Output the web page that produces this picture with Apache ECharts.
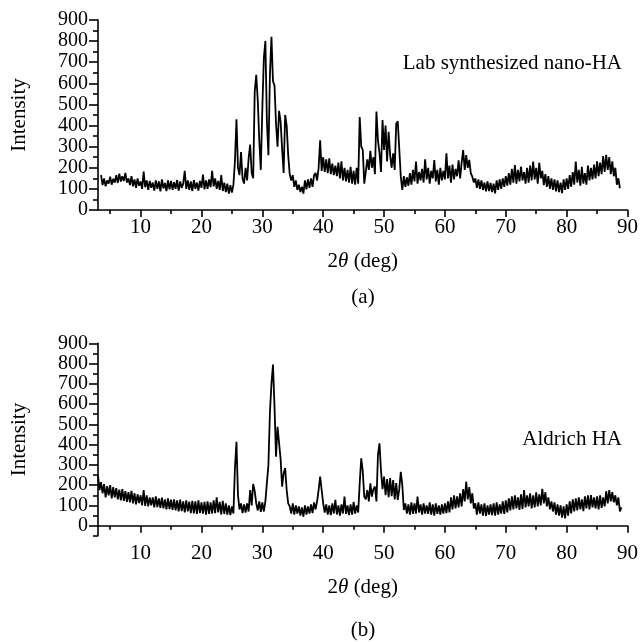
<!DOCTYPE html>
<html>
<head>
<meta charset="utf-8">
<script src="https://cdn.jsdelivr.net/npm/echarts/dist/echarts.min.js"></script>
<style>
html,body{margin:0;padding:0;background:#fff;}
#chart{width:641px;height:642px;}
</style>
</head>
<body>
<div id="chart"></div>
<script>
// ---- Data ----
const step = 0.25;                 // 2θ sampling (deg)
const labStart = 3.5;              // first 2θ of panel (a)
const aldrichStart = 3.0;          // first 2θ of panel (b)

// Panel (a): Lab synthesized nano-HA, intensity per 0.25 deg
const labValues = [
  165,118,
  150,112,140,125, 158,120,148,130, 165,128,172,135, 160,138,176,130,
  150,118,160,112, 145,105,150,115, 135,100,182,108, 140,95,138,105,
  130,92,140,100, 135,88,145,102, 128,90,140,98, 138,95,132,100,
  142,92,135,105, 125,185,100,140, 95,135,90,142, 100,130,92,138,
  105,168,98,140, 100,145,108,185, 112,150,100,138, 95,165,90,130,
  85,125,78,118, 82,120,230,430, 200,165,275,150, 125,200,140,245,
  310,175,150,560, 640,520,330,190, 480,720,800,420, 260,640,820,610,
  590,410,300,470, 420,290,175,450, 400,260,170,140, 165,110,140,95,
  120,85,110,78, 140,98,145,105, 150,110,165,175, 140,200,330,185,
  250,180,240,175, 245,170,220,165, 210,160,225,150, 230,140,200,135,
  190,130,205,125, 185,120,200,125, 440,300,285,125, 120,240,190,280,
  200,250,170,466, 330,270,180,426, 285,400,230,370, 260,200,268,190,
  410,420,290,158, 95,160,110,155, 115,175,120,190, 135,230,125,180,
  140,195,130,240, 145,200,125,185, 150,237,135,190, 120,200,140,185,
  145,268,150,210, 130,215,145,195, 160,235,150,225, 284,190,260,200,
  237,175,158,130, 150,105,145,100, 140,95,130,88, 135,90,128,85,
  125,79,140,95, 145,100,150,110, 160,115,175,120, 195,130,213,125,
  190,135,205,140, 180,125,200,130, 210,140,229,145, 200,125,224,150,
  185,118,170,110, 160,100,150,95, 145,88,140,85, 130,80,145,95,
  150,100,165,110, 180,120,229,130, 190,115,205,125, 175,120,210,140,
  200,145,215,150, 230,160,225,170, 255,180,261,190, 250,170,230,160,
  200,120,150,103
];

// Panel (b): Aldrich HA, intensity per 0.25 deg
const aldrichValues = [
  250,175,215,160, 205,140,195,150, 200,135,190,140, 185,130,178,125,
  180,122,170,118, 165,115,172,110, 160,105,155,112, 150,100,175,98,
  150,95,140,100, 140,90,145,92, 135,88,138,85, 130,80,135,82,
  128,78,130,75, 125,70,128,72, 120,65,125,70, 118,62,122,60,
  120,58,125,62, 115,60,118,55, 120,58,115,60, 125,62,140,65,
  118,55,122,58, 110,55,100,52, 95,60,283,414, 150,80,110,62,
  105,65,110,70, 176,100,206,170, 110,75,120,68, 115,70,120,120,
  300,560,700,795, 590,340,488,495, 330,192,258,284, 176,110,95,60,
  110,55,100,60, 95,50,90,44, 100,55,95,60, 105,62,115,80,
  120,176,242,176, 110,65,105,55, 100,52,110,60, 127,55,100,50,
  105,60,143,58, 100,52,105,55, 118,60,100,65, 209,332,270,143,
  130,176,120,209, 143,180,193,120, 349,406,270,180, 242,150,230,140,
  235,145,225,130, 210,127,180,266, 200,77,110,60, 105,55,115,58,
  110,60,143,65, 105,55,110,60, 100,58,115,55, 105,50,110,58,
  100,55,105,60, 110,62,120,65, 140,80,150,85, 145,90,160,95,
  180,120,217,130, 190,110,160,85, 110,55,115,60, 105,50,110,48,
  100,55,105,52, 110,50,115,55, 105,60,120,58, 125,65,135,75,
  145,80,150,85, 140,78,155,82, 176,90,150,95, 160,85,150,90,
  165,95,155,100, 182,110,165,95, 140,80,120,70, 115,55,105,50,
  100,40,95,36, 105,50,120,60, 130,70,135,75, 140,80,130,72,
  145,85,150,80, 151,90,140,85, 145,80,150,88, 140,95,170,110,
  176,120,165,115, 150,100,140,70,
  90
];

// Tick values
const xMajorTicks = [10, 20, 30, 40, 50, 60, 70, 80, 90];
const xMinorTicks = [5, 15, 25, 35, 45, 55, 65, 75, 85];
const yMajorTicks = [0, 100, 200, 300, 400, 500, 600, 700, 800, 900];
const yMinorTicksA = [50, 150, 250, 350, 450, 550, 650, 750, 850];
const yMinorTicksB = [-50, 50, 150, 250, 350, 450, 550, 650, 750, 850];

const titleA = 'Lab synthesized nano-HA';
const titleB = 'Aldrich HA';

// ---- Build ----
function toPairs(start, vals) {
  return vals.map((v, i) => [start + i * step, v]);
}

const FONT = '"Liberation Serif", "Times New Roman", serif';
const FS = 21;
const FS_Y = 20;
const black = '#000';

function xAxes(gridIndex) {
  return [
    {
      type: 'value', gridIndex, min: 3, max: 90, position: 'bottom',
      axisLine: { show: true, lineStyle: { color: black, width: 1.6 } },
      axisTick: { show: true, customValues: xMajorTicks, length: 7, lineStyle: { color: black, width: 1.6 } },
      axisLabel: { customValues: xMajorTicks, margin: 7, color: black, fontFamily: FONT, fontSize: FS,
                   showMinLabel: true, showMaxLabel: true, hideOverlap: false },
      splitLine: { show: false },
      name: '2{i|θ} (deg)', nameLocation: 'middle', nameGap: 41,
      nameTextStyle: {
        color: black, fontFamily: FONT, fontSize: FS,
        rich: { i: { fontStyle: 'italic', fontFamily: FONT, fontSize: FS, color: black } }
      }
    },
    {
      type: 'value', gridIndex, min: 3, max: 90, position: 'bottom',
      axisLine: { show: false },
      axisTick: { show: true, customValues: xMinorTicks, length: 4, lineStyle: { color: black, width: 1.6 } },
      axisLabel: { show: false },
      splitLine: { show: false }
    }
  ];
}

function yAxes(gridIndex, minV, minorTicks) {
  return [
    {
      type: 'value', gridIndex, min: minV, max: 900, position: 'left',
      axisLine: { show: true, lineStyle: { color: black, width: 1.6 } },
      axisTick: { show: true, customValues: yMajorTicks, length: 9, lineStyle: { color: black, width: 1.6 } },
      axisLabel: { customValues: yMajorTicks, margin: 10, color: black, fontFamily: FONT, fontSize: FS_Y,
                   showMinLabel: true, showMaxLabel: true, hideOverlap: false },
      splitLine: { show: false },
      name: 'Intensity', nameLocation: 'middle', nameGap: 68, nameRotate: 90,
      nameTextStyle: { color: black, fontFamily: FONT, fontSize: FS }
    },
    {
      type: 'value', gridIndex, min: minV, max: 900, position: 'left', offset: 0,
      axisLine: { show: false },
      axisTick: { show: true, customValues: minorTicks, length: 5, lineStyle: { color: black, width: 1.6 } },
      axisLabel: { show: false },
      splitLine: { show: false }
    }
  ];
}

const chart = echarts.init(document.getElementById('chart'), null, { renderer: 'canvas' });
chart.setOption({
  animation: false,
  backgroundColor: '#fff',
  grid: [
    { left: 98, right: 13.5, top: 20, height: 190 },
    { left: 98, right: 13.5, top: 343.3, height: 192.5 }
  ],
  xAxis: [...xAxes(0), ...xAxes(1)],
  yAxis: [...yAxes(0, 0, yMinorTicksA), ...yAxes(1, -50, yMinorTicksB)],
  series: [
    {
      type: 'line', xAxisIndex: 0, yAxisIndex: 0, showSymbol: false, sampling: null,
      data: toPairs(labStart, labValues),
      lineStyle: { color: black, width: 1.8 }
    },
    {
      type: 'line', xAxisIndex: 2, yAxisIndex: 2, showSymbol: false, sampling: null,
      data: toPairs(aldrichStart, aldrichValues),
      lineStyle: { color: black, width: 1.8 }
    }
  ],
  graphic: [
    { type: 'text', x: 622, y: 63, style: { text: titleA, fill: black, font: FS + 'px ' + FONT, align: 'right', verticalAlign: 'middle' } },
    { type: 'text', x: 622, y: 439, style: { text: titleB, fill: black, font: FS + 'px ' + FONT, align: 'right', verticalAlign: 'middle' } },
    { type: 'text', x: 363, y: 297, style: { text: '(a)', fill: black, font: FS + 'px ' + FONT, align: 'center', verticalAlign: 'middle' } },
    { type: 'text', x: 363, y: 630, style: { text: '(b)', fill: black, font: FS + 'px ' + FONT, align: 'center', verticalAlign: 'middle' } }
  ]
});
</script>
</body>
</html>
